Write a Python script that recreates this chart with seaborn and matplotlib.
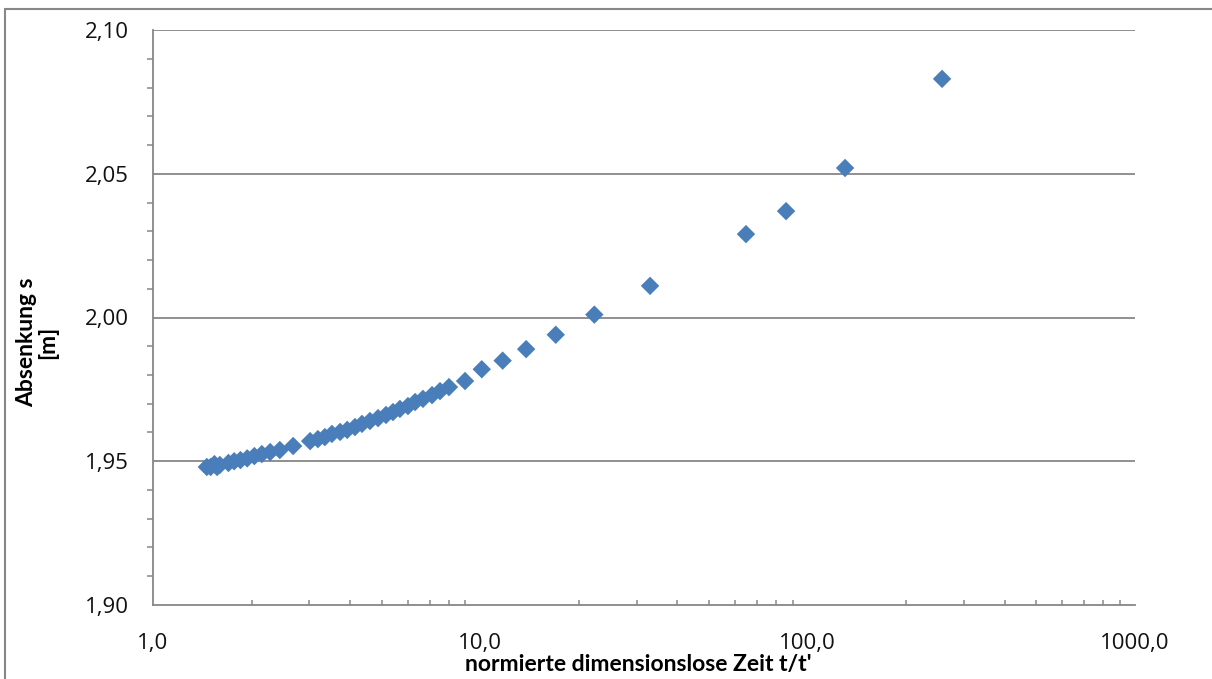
import matplotlib
matplotlib.use("Agg")
import matplotlib.pyplot as plt
import matplotlib.ticker as mticker
from matplotlib.lines import Line2D
import seaborn as sns
import pandas as pd
import numpy as np

# ---- data ----
t_ratio = [1.46, 1.50, 1.54, 1.57, 1.60, 1.70, 1.77, 1.85, 1.94, 2.04, 2.15, 2.28,
           2.44, 2.68, 3.02, 3.19, 3.35, 3.52, 3.73, 3.92, 4.14, 4.35, 4.60, 4.87,
           5.15, 5.41, 5.68, 6.01, 6.32, 6.68, 7.12, 7.53, 8.02, 8.98,
           10.1, 11.7, 13.8, 17.0, 22.3, 33.0, 64.8, 85.9, 130.1, 257.4]
drawdown = [1.948, 1.948, 1.949, 1.948, 1.9487, 1.9494, 1.950, 1.9504, 1.951, 1.9518, 1.9525, 1.9532,
            1.9539, 1.9553, 1.957, 1.9577, 1.9584, 1.9595, 1.9602, 1.9609, 1.9619, 1.963, 1.964, 1.965,
            1.9661, 1.9671, 1.9682, 1.9692, 1.9706, 1.9717, 1.973, 1.9744, 1.9758, 1.9779,
            1.982, 1.985, 1.989, 1.994, 2.001, 2.011, 2.029, 2.037, 2.052, 2.083]

x_ticks = [1, 10, 100, 1000]
x_ticklabels = ["1,0", "10,0", "100,0", "1000,0"]
y_ticks = [1.90, 1.95, 2.00, 2.05, 2.10]
y_ticklabels = ["1,90", "1,95", "2,00", "2,05", "2,10"]

df = pd.DataFrame({"t": t_ratio, "s": drawdown})

sns.set_theme(style="white")
plt.rcParams["font.family"] = ["Open Sans", "DejaVu Sans"]

W, H = 1212, 679
fig = plt.figure(figsize=(W / 100, H / 100), dpi=100)
ax = fig.add_axes([153 / W, 1 - 605 / H, (1135 - 153) / W, (605 - 30) / H])

grid_c = "#878787"
ax.set_xscale("log")
ax.set_xlim(1, 1000)
ax.set_ylim(1.90, 2.10)

for yv in y_ticks[1:]:
    ax.axhline(yv, color=grid_c, lw=1.3, zorder=1)

sns.scatterplot(data=df, x="t", y="s", marker="D", s=88, color="#4A7EBB",
                edgecolor="none", linewidth=0, ax=ax, zorder=3, legend=False)

for side in ["top", "right"]:
    ax.spines[side].set_visible(False)
for side in ["left", "bottom"]:
    ax.spines[side].set_color(grid_c)
    ax.spines[side].set_linewidth(1.3)

ax.set_xticks(x_ticks)
ax.set_xticklabels(x_ticklabels)
ax.xaxis.set_minor_locator(mticker.LogLocator(base=10, subs=np.arange(2, 10)))
ax.xaxis.set_minor_formatter(mticker.NullFormatter())
ax.tick_params(axis="x", which="major", direction="inout", length=10, width=1.3,
               color=grid_c, pad=15, labelsize=16, labelcolor="#111111")
ax.tick_params(axis="x", which="minor", direction="in", length=3.6, width=1.1,
               color=grid_c, bottom=True)

ax.set_yticks(y_ticks)
ax.set_yticklabels(y_ticklabels)
ax.yaxis.set_minor_locator(mticker.MultipleLocator(0.01))
ax.tick_params(axis="y", which="major", direction="out", length=4.5, width=1.3,
               color=grid_c, pad=13, labelsize=16, labelcolor="#111111")
ax.tick_params(axis="y", which="minor", direction="out", length=4.3, width=1.1,
               color=grid_c, left=True)

ax.set_xlabel("")
ax.set_ylabel("")

fig.text(638 / W, 1 - 664 / H, "normierte dimensionslose Zeit t/t'", ha="center", va="center",
         fontsize=16.5, fontweight="bold", family=["Lato", "DejaVu Sans"], color="#000000")
fig.text(37 / W, 1 - 342 / H, "Absenkung s\n[m]", ha="center", va="center", rotation=90,
         fontsize=16.5, fontweight="bold", family=["Lato", "DejaVu Sans"], color="#000000",
         linespacing=1.0)

# outer chart frame (top and left visible)
fig.add_artist(Line2D([5 / W, 1.01], [1 - 9 / H, 1 - 9 / H], transform=fig.transFigure,
                      color=grid_c, lw=1.5))
fig.add_artist(Line2D([5 / W, 5 / W], [-0.01, 1 - 9 / H], transform=fig.transFigure,
                      color=grid_c, lw=1.5))

fig.savefig("out.png", dpi=100)
